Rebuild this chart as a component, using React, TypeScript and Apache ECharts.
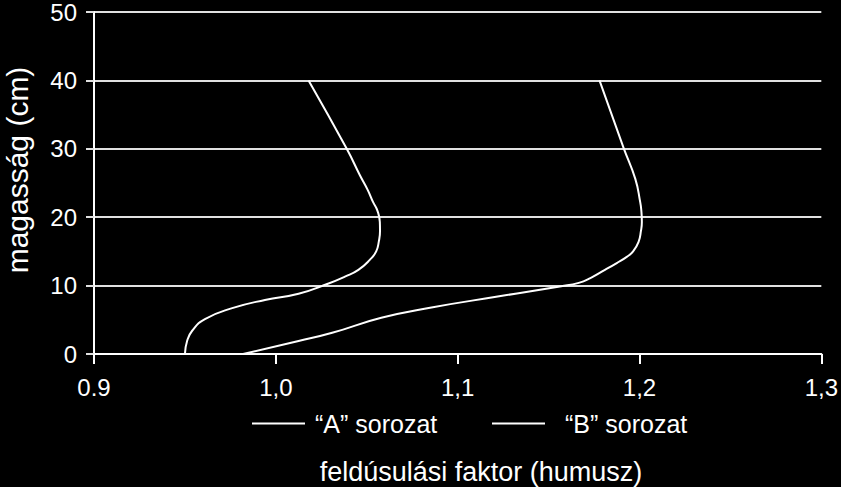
import React, { useEffect, useRef } from "react";
import * as echarts from "echarts";

const xTickLabels = ["0.9", "1,0", "1,1", "1,2", "1,3"];
const seriesNames = ["\u201cA\u201d sorozat", "\u201cB\u201d sorozat"];

const heightA = [0, 1.9, 3.4, 5.1, 6.7, 7.9, 8.8, 10.3, 11.3, 12.3, 13.8, 15.0, 16.4, 18.0, 19.3, 21.0, 22.2, 24.0, 26.1, 30, 40];
const factorA = [0.950, 0.9512, 0.954, 0.961, 0.976, 0.994, 1.0125, 1.029, 1.038, 1.0454, 1.0518, 1.0552, 1.0566, 1.0573, 1.0572, 1.0558, 1.0535, 1.0505, 1.0463, 1.039, 1.018];

const heightB = [0, 1.9, 3.1, 5.3, 6.8, 8.4, 9.9, 10.4, 11.1, 12.3, 13.3, 14.2, 15.0, 16.4, 18.0, 19.3, 21.0, 22.2, 25.6, 30.1, 40];
const factorB = [0.982, 1.0125, 1.031, 1.058, 1.0856, 1.122, 1.157, 1.1666, 1.173, 1.181, 1.1875, 1.193, 1.1965, 1.1995, 1.2008, 1.2013, 1.2010, 1.2004, 1.1977, 1.1913, 1.178];

const FONT = "Liberation Sans, Arial, sans-serif";

export default function App() {
  const ref = useRef<HTMLDivElement>(null);
  useEffect(() => {
    if (!ref.current) return;
    const chart = echarts.init(ref.current, null, { renderer: "svg" });
    const dataA = factorA.map((f, i) => [f, heightA[i]]);
    const dataB = factorB.map((f, i) => [f, heightB[i]]);
    const legendBase = {
      top: 406,
      icon: "rect",
      itemWidth: 53,
      itemHeight: 2,
      selectedMode: false,
    };
    chart.setOption({
      animation: false,
      backgroundColor: "#000000",
      textStyle: { fontFamily: FONT },
      grid: { left: 94, right: 17, top: 11, bottom: 133, containLabel: false },
      xAxis: {
        type: "value",
        min: 0.9,
        max: 1.3,
        interval: 0.1,
        axisLine: { show: true, lineStyle: { color: "#ffffff", width: 2 } },
        axisTick: { show: true, length: 10, lineStyle: { color: "#ffffff", width: 2 } },
        splitLine: { show: false },
        axisLabel: {
          color: "#ffffff",
          fontSize: 24,
          fontFamily: FONT,
          margin: 21,
          formatter: (v: number) => xTickLabels[Math.round((v - 0.9) * 10)] ?? "",
        },
      },
      yAxis: {
        type: "value",
        min: 0,
        max: 50,
        interval: 10,
        axisLine: { show: true, lineStyle: { color: "#ffffff", width: 2 } },
        axisTick: { show: true, length: 8, lineStyle: { color: "#e0e0e0", width: 2 } },
        splitLine: { show: true, lineStyle: { color: "#e0e0e0", width: 2 } },
        axisLabel: { color: "#ffffff", fontSize: 24, fontFamily: FONT, margin: 17 },
      },
      legend: [
        {
          ...legendBase,
          left: 247,
          textStyle: { color: "#ffffff", fontSize: 25, fontFamily: FONT, padding: [0, 0, 0, 5] },
          data: [seriesNames[0]],
        },
        {
          ...legendBase,
          left: 487,
          textStyle: { color: "#ffffff", fontSize: 25, fontFamily: FONT, padding: [0, 0, 0, 15] },
          data: [seriesNames[1]],
        },
      ],
      graphic: [
        {
          type: "text",
          x: 481,
          y: 472,
          style: {
            text: "feldúsulási faktor (humusz)",
            fill: "#ffffff",
            font: `27px ${FONT}`,
            textAlign: "center",
            textVerticalAlign: "middle",
          },
        },
        {
          type: "text",
          x: 17,
          y: 170,
          rotation: Math.PI / 2,
          style: {
            text: "magasság (cm)",
            fill: "#ffffff",
            font: `30px ${FONT}`,
            textAlign: "center",
            textVerticalAlign: "middle",
          },
        },
      ],
      series: [
        {
          name: seriesNames[0],
          type: "line",
          data: dataA,
          showSymbol: false,
          smooth: 0.5,
          lineStyle: { color: "#ffffff", width: 2 },
          itemStyle: { color: "#ffffff" },
        },
        {
          name: seriesNames[1],
          type: "line",
          data: dataB,
          showSymbol: false,
          smooth: 0.5,
          lineStyle: { color: "#ffffff", width: 2 },
          itemStyle: { color: "#ffffff" },
        },
      ],
    });
    return () => chart.dispose();
  }, []);
  return <div ref={ref} style={{ width: 841, height: 487, position: "fixed", left: 0, top: 0 }} />;
}
